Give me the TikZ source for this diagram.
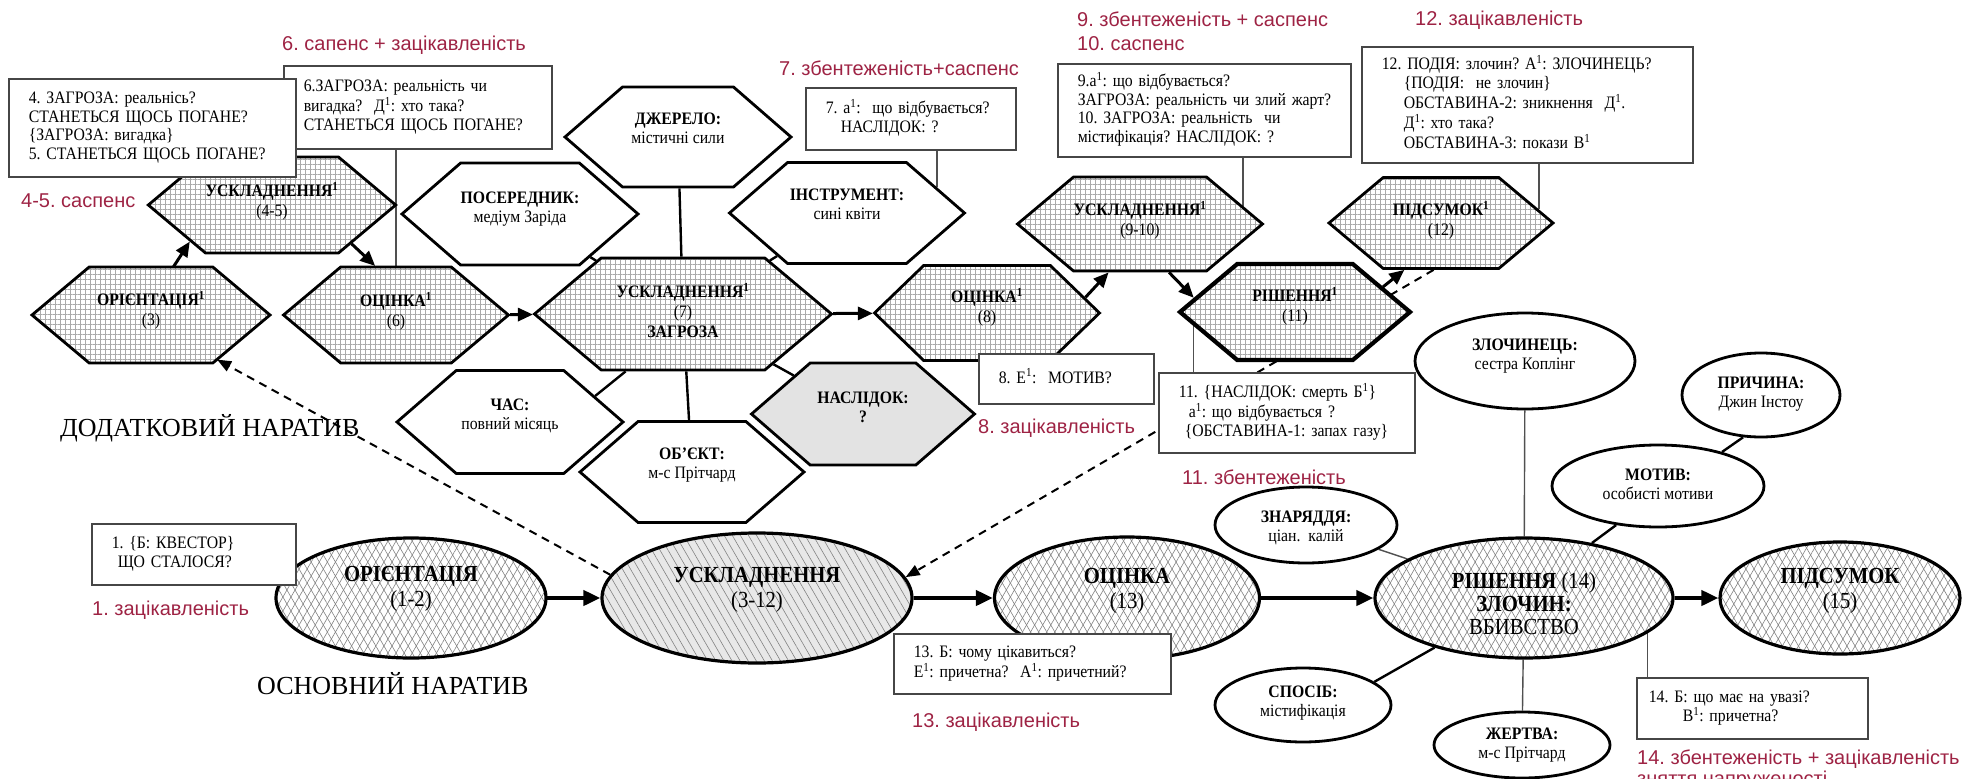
\documentclass[tikz,border=0pt]{standalone}
\usepackage{fontspec}
\setmainfont{Liberation Serif}[FakeStretch=0.9]
\newfontfamily\narrfont{Liberation Serif}
\newfontfamily\redsans{Liberation Sans}
\usetikzlibrary{shapes.symbols,shapes.geometric,patterns.meta,arrows.meta,backgrounds,calc}

\definecolor{labelred}{RGB}{158,35,68}
\definecolor{boxline}{RGB}{70,70,70}
\definecolor{linkgray}{RGB}{80,80,80}
\definecolor{gridgray}{RGB}{170,170,170}
\definecolor{hatchgray}{RGB}{130,130,130}

\newcommand{\boxfont}{\fontsize{17.5}{18.7}\selectfont}
\newcommand{\hexfont}{\fontsize{17.5}{20}\selectfont}
\newcommand{\satfont}{\fontsize{17.5}{19}\selectfont}
\newcommand{\ellfont}{\fontsize{23}{25}\selectfont}
\newcommand{\sone}{\textsuperscript{1}}
% centred text block, lifted by #1, taking no room of its own
\newcommand{\ctext}[2]{\raisebox{#1}[0pt][0pt]{\begin{tabular}{@{}c@{}}#2\end{tabular}}}
% left-aligned block of lines for the question boxes
\newcommand{\boxlines}[1]{\begin{tabular}{@{}l@{}}#1\end{tabular}}

\tikzset{
  hexbase/.style={signal, signal to=east and west, signal pointer angle=80,
    inner sep=0pt, draw=black, line width=2.8pt},
  plothex/.style={hexbase, font=\hexfont, preaction={fill=white},
    pattern={Hatch[angle=0,distance=5pt,line width=0.45pt]}, pattern color=gridgray},
  attrhex/.style={hexbase, signal pointer angle=82, font=\satfont, fill=white},
  mainell/.style={ellipse, draw=black, line width=3.2pt, inner sep=0pt, font=\ellfont,
    preaction={fill=white},
    preaction={pattern={Lines[angle=60,distance=7pt,line width=0.6pt]}, pattern color=hatchgray},
    pattern={Lines[angle=120,distance=7pt,line width=0.6pt]}, pattern color=hatchgray},
  greyell/.style={mainell, preaction={fill=gray!18}},
  satell/.style={ellipse, draw=black, line width=2.8pt, fill=white, inner sep=0pt, font=\satfont},
  infobox/.style={draw=boxline, line width=1.5pt, fill=white, anchor=north west,
    inner xsep=20pt, inner ysep=0pt, align=left, font=\boxfont},
  redlabel/.style={anchor=base west, inner sep=0pt, text=labelred,
    font=\redsans\fontsize{20}{23}\selectfont},
  narrlabel/.style={anchor=base west, inner sep=0pt, font=\narrfont\fontsize{26}{28}\selectfont},
  plotarrow/.style={line width=3pt, -{Triangle[length=15pt,width=13pt]}},
  mainarrow/.style={line width=4pt, -{Triangle[length=17pt,width=15pt]}},
  dasharrow/.style={line width=2pt, dash pattern=on 8pt off 6pt, -{Triangle[length=14pt,width=11pt]}},
  attrlink/.style={line width=2.4pt},
  thinlink/.style={line width=1.4pt, draw=linkgray},
}

\begin{document}
\frenchspacing
\begin{tikzpicture}[x=1pt,y=-1pt]
\useasboundingbox (0,0) rectangle (1984,779);

% ---- secondary story: plot hexagons
\node[plothex, minimum width=238pt, minimum height=96pt] (h3) at (151,315) {\ctext{-1pt}{\textbf{ОРІЄНТАЦІЯ\sone}\\(3)}};
\node[plothex, minimum width=235pt, minimum height=96pt] (h45) at (272,205) {\ctext{-2pt}{\textbf{УСКЛАДНЕННЯ\sone}\\(4-5)}};
\node[plothex, minimum width=225pt, minimum height=96pt] (h6) at (396,315) {\ctext{-2pt}{\textbf{ОЦІНКА\sone}\\(6)}};
\node[plothex, minimum width=297pt, minimum height=112pt] (h7) at (683,314) {\ctext{-4pt}{\textbf{УСКЛАДНЕННЯ\sone}\\(7)\\\textbf{ЗАГРОЗА}}};
\node[plothex, minimum width=225pt, minimum height=95pt, signal pointer angle=88] (h8) at (987,313) {\ctext{0pt}{\textbf{ОЦІНКА\sone}\\(8)}};
\node[plothex, minimum width=239pt, minimum height=94pt] (h910) at (1140,224) {\ctext{-2pt}{\textbf{УСКЛАДНЕННЯ\sone}\\(9-10)}};
\node[plothex, line width=4.2pt, minimum width=230pt, minimum height=96pt] (h11) at (1295,312) {\ctext{0pt}{\textbf{РІШЕННЯ\sone}\\(11)}};
\node[plothex, minimum width=224pt, minimum height=91pt] (h12) at (1441,223) {\ctext{-3pt}{\textbf{ПІДСУМОК\sone}\\(12)}};

% ---- attributes of the threat
\node[attrhex, minimum width=226pt, minimum height=100pt] (dz) at (678,137) {\ctext{2pt}{\textbf{ДЖЕРЕЛО:}\\містичні сили}};
\node[attrhex, minimum width=225pt, minimum height=102pt] (pos) at (520,214) {\ctext{0pt}{\textbf{ПОСЕРЕДНИК:}\\медіум Заріда}};
\node[attrhex, minimum width=235pt, minimum height=101pt] (ins) at (847,213) {\ctext{2pt}{\textbf{ІНСТРУМЕНТ:}\\сині квіти}};
\node[attrhex, minimum width=226pt, minimum height=103pt] (chas) at (510,422) {\ctext{1pt}{\textbf{ЧАС:}\\повний місяць}};
\node[attrhex, minimum width=224pt, minimum height=101pt] (obj) at (692,472) {\ctext{2pt}{\textbf{ОБ’ЄКТ:}\\м-с Прітчард}};
\node[attrhex, fill=gray!22, minimum width=223pt, minimum height=102pt] (nas) at (863,414) {\ctext{0pt}{\textbf{НАСЛІДОК:}\\\textbf{?}}};

% ---- main story: ellipses
\node[mainell, minimum width=270pt, minimum height=120pt] (e1) at (411,598) {\ctext{3pt}{\textbf{ОРІЄНТАЦІЯ}\\(1-2)}};
\node[greyell, minimum width=310pt, minimum height=130pt] (e2) at (757,598) {\ctext{2pt}{\textbf{УСКЛАДНЕННЯ}\\(3-12)}};
\node[mainell, minimum width=265pt, minimum height=122pt] (e3) at (1127,598) {\ctext{1pt}{\textbf{ОЦІНКА}\\(13)}};
\node[mainell, minimum width=298pt, minimum height=120pt, font=\fontsize{23}{23}\selectfont] (e4) at (1524,598) {\ctext{-15pt}{\textbf{РІШЕННЯ} (14)\\\textbf{ЗЛОЧИН:}\\ВБИВСТВО}};
\node[mainell, minimum width=240pt, minimum height=112pt] (e5) at (1840,598) {\ctext{1pt}{\textbf{ПІДСУМОК}\\(15)}};

% ---- attributes of the crime
\node[satell, minimum width=220pt, minimum height=96pt] (zl) at (1525,361) {\ctext{0pt}{\textbf{ЗЛОЧИНЕЦЬ:}\\сестра Коплінг}};
\node[satell, minimum width=158pt, minimum height=84pt] (pr) at (1761,395) {\ctext{-4pt}{\textbf{ПРИЧИНА:}\\Джин Інстоу}};
\node[satell, minimum width=212pt, minimum height=82pt] (mo) at (1658,486) {\ctext{-5pt}{\textbf{МОТИВ:}\\особисті мотиви}};
\node[satell, minimum width=182pt, minimum height=76pt] (zn) at (1306,525) {\ctext{-8pt}{\textbf{ЗНАРЯДДЯ:}\\ціан.\ \ калій}};
\node[satell, minimum width=176pt, minimum height=74pt] (sp) at (1303,705) {\ctext{-3pt}{\textbf{СПОСІБ:}\\містифікація}};
\node[satell, minimum width=176pt, minimum height=66pt] (zh) at (1522,745) {\ctext{-5pt}{\textbf{ЖЕРТВА:}\\м-с Прітчард}};

% ---- question boxes
\node[infobox, minimum width=268pt, text width=228pt, minimum height=83pt] (b6) at (283,65) {\boxlines{6.ЗАГРОЗА: реальність чи\\вигадка?\ \ Д\sone: хто така?\\СТАНЕТЬСЯ ЩОСЬ ПОГАНЕ?}};
\node[infobox, minimum width=287pt, text width=247pt, minimum height=98pt] (b4) at (8,78) {\boxlines{4. ЗАГРОЗА: реальнісь?\\СТАНЕТЬСЯ ЩОСЬ ПОГАНЕ?\\\{ЗАГРОЗА: вигадка\}\\5. СТАНЕТЬСЯ ЩОСЬ ПОГАНЕ?}};
\node[infobox, minimum width=210pt, text width=170pt, minimum height=62pt] (b7) at (805,87) {\boxlines{7. а\sone:\ \ що відбувається?\\\hspace*{15pt}НАСЛІДОК: ?}};
\node[infobox, minimum width=293pt, text width=253pt, minimum height=93pt] (b910) at (1057,63) {\boxlines{9.а\sone: що відбувається?\\ЗАГРОЗА: реальність чи злий жарт?\\10. ЗАГРОЗА: реальність\ \ чи\\містифікація? НАСЛІДОК: ?}};
\node[infobox, minimum width=331pt, text width=291pt, minimum height=116pt] (b12) at (1361,46) {\boxlines{12. ПОДІЯ: злочин? А\sone: ЗЛОЧИНЕЦЬ?\\\hspace*{22pt}\{ПОДІЯ:\ \ не злочин\}\\\hspace*{22pt}ОБСТАВИНА-2: зникнення\ \ Д\sone.\\\hspace*{22pt}Д\sone: хто така?\\\hspace*{22pt}ОБСТАВИНА-3: покази В\sone}};
\node[infobox, minimum width=175pt, text width=135pt, minimum height=50pt] (b8) at (978,353) {\boxlines{8. Е\sone:\ \ МОТИВ?}};
\node[infobox, minimum width=256pt, text width=216pt, minimum height=80pt] (b11) at (1158,372) {\boxlines{11. \{НАСЛІДОК: смерть Б\sone\}\\\hspace*{10pt}а\sone: що відбувається ?\\\hspace*{6pt}\{ОБСТАВИНА-1: запах газу\}}};
\node[infobox, minimum width=204pt, text width=164pt, minimum height=61pt] (b1) at (91,523) {\boxlines{1. \{Б: КВЕСТОР\}\\\hspace*{6pt}ЩО СТАЛОСЯ?}};
\node[infobox, minimum width=277pt, text width=237pt, minimum height=60pt] (b13) at (893,633) {\boxlines{13. Б: чому цікавиться?\\Е\sone: причетна?\ \ А\sone: причетний?}};
\node[infobox, minimum width=231pt, text width=191pt, minimum height=61pt] (b14) at (1636,677) {\boxlines{\hspace*{-8pt}14. Б: що має на увазі?\\\hspace*{26pt}В\sone: причетна?}};

% ---- emotion labels
\node[redlabel] (r6) at (282,50) {6. сапенс + зацікавленість};
\node[redlabel] (r45) at (21,207) {4-5. саспенс};
\node[redlabel] (r7) at (779,75) {7. збентеженість+саспенс};
\node[redlabel] (r9) at (1077,27) {9. збентеженість + саспенс};
\node[redlabel] (r10) at (1077,50) {10. саспенс};
\node[redlabel] (r12) at (1415,25) {12. зацікавленість};
\node[redlabel] (r8) at (978,433) {8. зацікавленість};
\node[redlabel] (r11) at (1182,484) {11. збентеженість};
\node[redlabel] (r1) at (92,615) {1. зацікавленість};
\node[redlabel] (r13) at (912,727) {13. зацікавленість};
\node[redlabel] (r14) at (1637,764) {14. збентеженість + зацікавленість};
\node[redlabel] (r14b) at (1637,785) {зняття напруженості};

% ---- story level captions
\node[narrlabel] (dn) at (60,436) {ДОДАТКОВИЙ НАРАТИВ};
\node[narrlabel] (on) at (257,694) {ОСНОВНИЙ НАРАТИВ};

% ---- links drawn under the shapes
\begin{pgfonlayer}{background}
  \draw[dasharrow] (h12.261) -- (e2.8);
  \draw[dasharrow] (e2.171) -- (h3.326);
  \draw[attrlink] (dz) -- (h7);
  \draw[attrlink] (pos) -- (h7);
  \draw[attrlink] (ins) -- (h7);
  \draw[attrlink] (chas.17) -- (h7.225);
  \draw[attrlink] (obj) -- (h7);
  \draw[attrlink] (nas) -- (h7);
  \draw[thinlink] (zn) -- (e4);
  \draw[thinlink] (zl) -- (e4);
  \draw[attrlink] (pr.247) -- (mo.28);
  \draw[attrlink] (mo.223) -- (e4.39);
  \draw[attrlink] (sp.18) -- (e4.209);
  \draw[thinlink] (zh) -- (e4);
  \draw[thinlink] (b6.south -| h6.north) -- (h6.north);
  \draw[thinlink] (b7.south -| ins.16) -- (ins.16);
  \draw[thinlink] (b910.south -| h910.10) -- (h910.10);
  \draw[thinlink] (b12.south -| h12.8) -- (h12.8);
  \draw[thinlink] (b11.north -| h11.188) -- (h11.188);
  \draw[thinlink] (b14.north -| e4.344) -- (e4.344);
\end{pgfonlayer}

% ---- story flow arrows
\draw[plotarrow] (h3.65) -- (h45.204);
\draw[plotarrow] (h45.334) -- (h6.113);
\draw[plotarrow] (h6) -- (h7);
\draw[plotarrow] (h7) -- (h8);
\draw[plotarrow] (h8.9) -- (h910.237);
\draw[plotarrow] (h910.301) -- (h11.172);
\draw[plotarrow] (h11.16) -- (h12.232);
\draw[mainarrow] (e1) -- (e2);
\draw[mainarrow] (e2) -- (e3);
\draw[mainarrow] (e3) -- (e4);
\draw[mainarrow] (e4) -- (e5);
\end{tikzpicture}
\end{document}
